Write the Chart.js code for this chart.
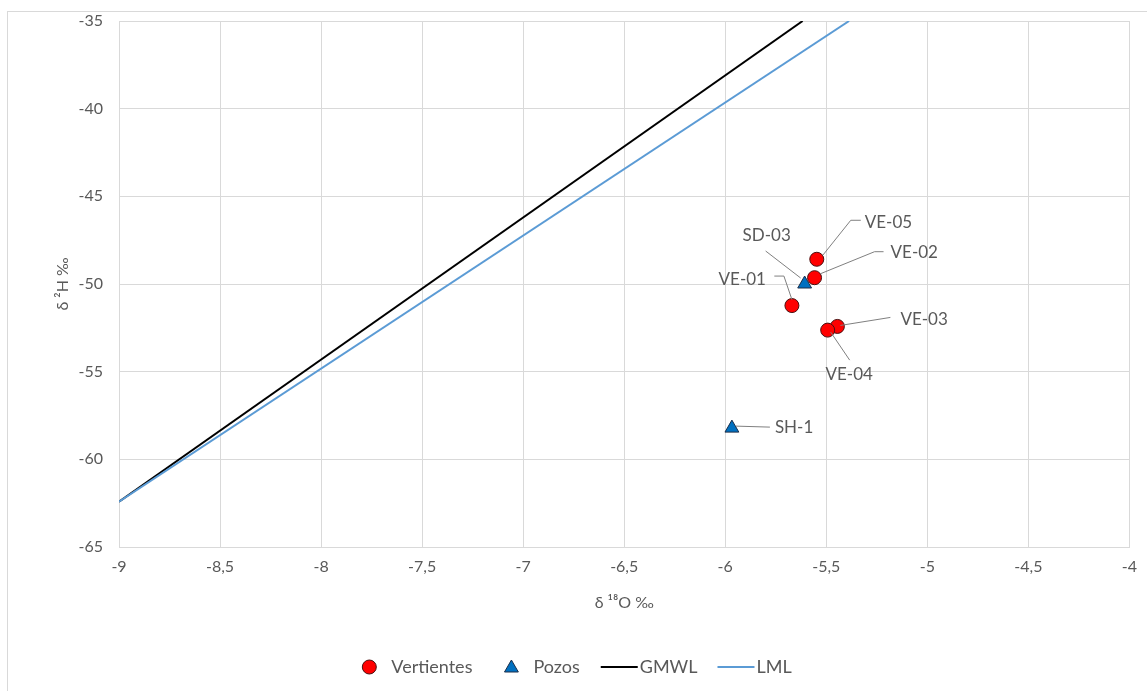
<!DOCTYPE html>
<html><head><meta charset="utf-8">
<script src="https://cdn.jsdelivr.net/npm/chart.js@4"></script>
<style>html,body{margin:0;padding:0;background:#fff;overflow:hidden}</style>
</head><body>
<canvas id="c" width="1147" height="691"></canvas>
<script>
// ---- data ----
const vertientesNames = ['VE-01', 'VE-02', 'VE-03', 'VE-04', 'VE-05'];
const vertientesO18 = [-5.670, -5.558, -5.445, -5.493, -5.547];
const vertientesH2 = [-51.23, -49.64, -52.42, -52.63, -48.59];
const pozosNames = ['SD-03', 'SH-1'];
const pozosO18 = [-5.607, -5.967];
const pozosH2 = [-50.00, -58.22];
const gmwlO18 = [-9, -5.617];
const gmwlH2 = [-62.42, -35];
const lmlO18 = [-9, -5.387];
const lmlH2 = [-62.42, -35];
const xTickValues = [-9, -8.5, -8, -7.5, -7, -6.5, -6, -5.5, -5, -4.5, -4];
const xTickLabels = ['-9', '-8,5', '-8', '-7,5', '-7', '-6,5', '-6', '-5,5', '-5', '-4,5', '-4'];
const yTickValues = [-65, -60, -55, -50, -45, -40, -35];
const yTickLabels = ['-65', '-60', '-55', '-50', '-45', '-40', '-35'];
const seriesNames = ['Vertientes', 'Pozos', 'GMWL', 'LML'];

// ---- label placement (pixel offsets from each marker) ----
const labelLayout = {
  'VE-05': {path: [[6, -4], [34, -39], [44, -39]], text: [48, -37], align: 'left'},
  'VE-02': {path: [[6, -4], [60, -26], [69, -26]], text: [76, -25], align: 'left'},
  'SD-03': {path: [[-4, -6], [-39, -33]], text: [-38, -48], align: 'center'},
  'VE-01': {path: [[0, -6], [-8, -29.5], [-17.6, -29.5]], text: [-26, -26.5], align: 'right'},
  'VE-03': {path: [[3, -1], [53, -9]], text: [63, -7], align: 'left'},
  'VE-04': {path: [[3, 2], [22, 30]], text: [21.5, 44], align: 'center'},
  'SH-1': {path: [[4, -2], [38, -1]], text: [43, -1], align: 'left'}
};

const FONT = 'Lato, "Open Sans", sans-serif';
const TXT = '#595959';
const GRID = '#d9d9d9';

const zip = (xs, ys) => xs.map((x, i) => ({x: x, y: ys[i]}));

const frame = {
  id: 'frame',
  beforeDraw(chart) {
    const ctx = chart.ctx;
    ctx.save();
    ctx.fillStyle = '#fff';
    ctx.fillRect(0, 0, chart.width, chart.height);
    ctx.strokeStyle = GRID;
    ctx.lineWidth = 1;
    ctx.strokeRect(7.5, 11.5, 1300, 800);
    ctx.restore();
  }
};

const labels = {
  id: 'pointLabels',
  afterDatasetsDraw(chart) {
    const ctx = chart.ctx;
    ctx.save();
    ctx.font = '17px ' + FONT;
    ctx.textBaseline = 'middle';
    const groups = [[0, vertientesNames], [1, pozosNames]];
    groups.forEach(([di, names]) => {
      const meta = chart.getDatasetMeta(di);
      names.forEach((n, j) => {
        const el = meta.data[j];
        const L = labelLayout[n];
        if (!el || !L) return;
        ctx.strokeStyle = '#808080';
        ctx.lineWidth = 1;
        ctx.beginPath();
        L.path.forEach((p, k) => {
          const px = el.x + p[0], py = el.y + p[1];
          if (k === 0) ctx.moveTo(px, py); else ctx.lineTo(px, py);
        });
        ctx.stroke();
        ctx.fillStyle = TXT;
        ctx.textAlign = L.align;
        ctx.fillText(n, el.x + L.text[0], el.y + L.text[1]);
      });
    });
    ctx.restore();
  }
};

const legendPlugin = {
  id: 'customLegend',
  afterDraw(chart) {
    const ctx = chart.ctx;
    ctx.save();
    ctx.font = '18px ' + FONT;
    ctx.textBaseline = 'middle';
    const y = 667;
    const ds = chart.data.datasets;
    const items = ds.map(d => ({d: d, w: ctx.measureText(d.label).width, line: !!d.showLine}));
    const gap = [0, 32, 21, 20];
    let total = 0;
    items.forEach((it, i) => { total += gap[i] + (it.line ? 39 : 29) + it.w; });
    let x = 577 - total / 2;
    items.forEach((it, i) => {
      x += gap[i];
      const d = it.d;
      if (it.line) {
        ctx.strokeStyle = d.borderColor;
        ctx.lineWidth = d.borderWidth;
        ctx.beginPath(); ctx.moveTo(x, y); ctx.lineTo(x + 37, y); ctx.stroke();
        x += 39;
      } else {
        ctx.fillStyle = d.backgroundColor;
        ctx.strokeStyle = d.borderColor;
        ctx.lineWidth = d.pointBorderWidth;
        ctx.beginPath();
        if (d.pointStyle === 'circle') {
          ctx.arc(x + 7, y, d.pointRadius, 0, Math.PI * 2);
        } else {
          const r = d.pointRadius, cx = x + 7, cy = y + 1;
          ctx.moveTo(cx, cy - r);
          ctx.lineTo(cx + r * Math.cos(Math.PI / 6), cy + r / 2);
          ctx.lineTo(cx - r * Math.cos(Math.PI / 6), cy + r / 2);
          ctx.closePath();
        }
        ctx.fill(); ctx.stroke();
        x += 29;
      }
      ctx.fillStyle = TXT;
      ctx.textAlign = 'left';
      ctx.fillText(d.label, x, y);
      x += it.w;
    });
    ctx.restore();
  }
};

new Chart(document.getElementById('c'), {
  type: 'scatter',
  data: {
    datasets: [
      {label: seriesNames[0], data: zip(vertientesO18, vertientesH2), pointStyle: 'circle',
       pointRadius: 7, pointHoverRadius: 7, pointBorderWidth: 1,
       backgroundColor: '#ff0000', borderColor: '#4a1010', order: 1},
      {label: seriesNames[1], data: zip(pozosO18, pozosH2), pointStyle: 'triangle',
       pointRadius: 8, pointHoverRadius: 8, pointBorderWidth: 1,
       backgroundColor: '#0070c0', borderColor: '#1c2f4a', order: 2},
      {label: seriesNames[2], data: zip(gmwlO18, gmwlH2), showLine: true, pointRadius: 0,
       borderColor: '#000000', borderWidth: 2, backgroundColor: '#000000', order: 4},
      {label: seriesNames[3], data: zip(lmlO18, lmlH2), showLine: true, pointRadius: 0,
       borderColor: '#5b9bd5', borderWidth: 2, backgroundColor: '#5b9bd5', order: 3}
    ]
  },
  options: {
    responsive: false,
    animation: false,
    devicePixelRatio: 1,
    layout: {padding: {left: 50, top: 21, right: 14, bottom: 79}},
    plugins: {legend: {display: false}, tooltip: {enabled: false}},
    scales: {
      x: {
        type: 'linear', position: 'bottom', min: -9, max: -4,
        afterBuildTicks: s => { s.ticks = xTickValues.map(v => ({value: v})); },
        afterFit: s => { s.height = 65; },
        grid: {color: GRID, drawTicks: false},
        border: {color: GRID},
        ticks: {padding: 10, color: TXT, font: {family: FONT, size: 16},
                callback: (v, i) => xTickLabels[i]},
        title: {display: true, text: 'δ ¹⁸O ‰', color: TXT, font: {family: FONT, size: 16},
                padding: {top: 4, bottom: 0}}
      },
      y: {
        type: 'linear', position: 'left', min: -65, max: -35,
        afterBuildTicks: s => { s.ticks = yTickValues.map(v => ({value: v})); },
        afterFit: s => { s.width = 69; },
        grid: {color: GRID, drawTicks: true, tickLength: 12, tickColor: 'rgba(0,0,0,0)'},
        border: {color: GRID},
        ticks: {padding: 4, color: TXT, font: {family: FONT, size: 16},
                callback: (v, i) => yTickLabels[i]},
        title: {display: true, text: 'δ ²H ‰', color: TXT, font: {family: FONT, size: 16},
                padding: {top: 3, bottom: 0}}
      }
    }
  },
  plugins: [frame, labels, legendPlugin]
});
</script>
</body></html>
